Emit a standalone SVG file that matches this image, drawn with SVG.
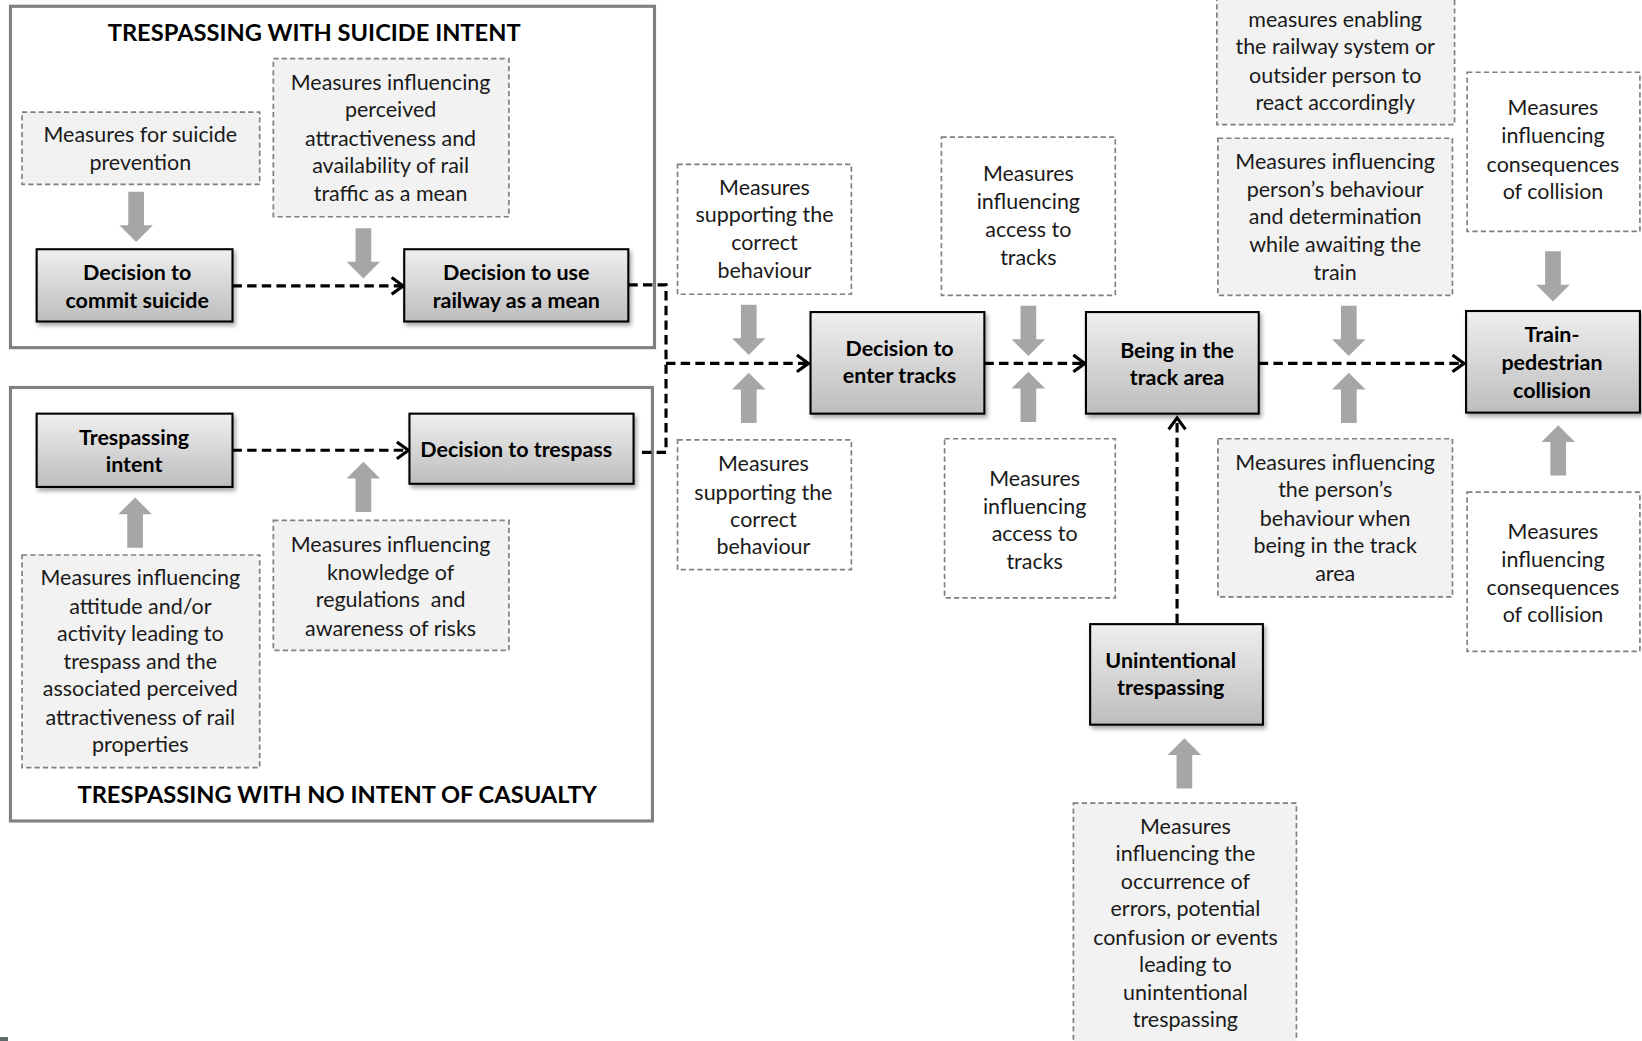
<svg xmlns="http://www.w3.org/2000/svg" width="1642" height="1041" viewBox="0 0 1642 1041">
<style>
text{font-family:Lato,"Liberation Sans",sans-serif;fill:#1a1a1a;text-anchor:middle}
.m{font-size:20.5px}
.b{font-size:20.5px;font-weight:bold;fill:#000}
.t{font-size:22.6px;font-weight:bold;fill:#000}
.grp{fill:none;stroke:#808080;stroke-width:3}
.mg{fill:#f2f2f2;stroke:#808080;stroke-width:1.6;stroke-dasharray:5 3}
.mw{fill:#fff;stroke:#808080;stroke-width:1.6;stroke-dasharray:5 3}
.nd{fill:url(#gr);stroke:#000;stroke-width:2;filter:url(#sh)}
.ga{fill:#a6a6a6}
.c{fill:none;stroke:#000;stroke-width:3;stroke-dasharray:9 5}
</style>
<defs>
<linearGradient id="gr" x1="0" y1="0" x2="0" y2="1"><stop offset="0" stop-color="#efefef"/><stop offset="1" stop-color="#bdbdbd"/></linearGradient>
<filter id="sh" x="-10%" y="-10%" width="130%" height="140%"><feDropShadow dx="2" dy="3" stdDeviation="2" flood-color="#000" flood-opacity="0.35"/></filter>
<marker id="ah" markerUnits="userSpaceOnUse" markerWidth="16" markerHeight="20" refX="13" refY="10" orient="auto"><path d="M2,2 L13,10 L2,18" fill="none" stroke="#000" stroke-width="3" stroke-dasharray="none"/></marker>
<path id="dn" d="M-7.5,0 H7.5 V32 H16 L0,48 L-16,32 H-7.5 Z"/>
<path id="up" d="M-7.5,48 H7.5 V16 H16 L0,0 L-16,16 H-7.5 Z"/>
</defs>
<rect x="0" y="1037" width="8" height="4" fill="#5f6b6b"/>
<g transform="scale(1.0472)">
<g id="group-suicide">
<rect class="grp" x="10" y="6" width="615" height="326"/>
<text class="t" x="300" y="39">TRESPASSING WITH SUICIDE INTENT</text>
</g>
<g id="group-no-intent">
<rect class="grp" x="10" y="370" width="613" height="414"/>
<text class="t" x="322" y="767">TRESPASSING WITH NO INTENT OF CASUALTY</text>
</g>
<g id="connectors">
<path class="c" d="M222,273 H385" marker-end="url(#ah)"/>
<path class="c" d="M600,272 H636 V432 H611"/>
<path class="c" d="M636,347 H772" marker-end="url(#ah)"/>
<path class="c" d="M222,430 H390" marker-end="url(#ah)"/>
<path class="c" d="M940,347 H1036" marker-end="url(#ah)"/>
<path class="c" d="M1202,347 H1398" marker-end="url(#ah)"/>
<path class="c" d="M1124,595 V399" marker-end="url(#ah)"/>
</g>
<g id="influence-arrows" class="ga">
<use href="#dn" x="130" y="183"/>
<use href="#dn" x="347" y="218"/>
<use href="#up" x="129" y="475"/>
<use href="#up" x="347" y="441"/>
<use href="#dn" x="715" y="291"/>
<use href="#up" x="715" y="356"/>
<use href="#dn" x="982" y="292"/>
<use href="#up" x="982" y="355"/>
<use href="#dn" x="1288" y="292"/>
<use href="#up" x="1288" y="356"/>
<use href="#dn" x="1483" y="240"/>
<use href="#up" x="1488" y="406"/>
<use href="#up" x="1131" y="705"/>
</g>
<g id="n-commit-suicide"><rect class="nd" x="35" y="238" width="187" height="69"/>
<text class="b" x="131" y="267">Decision to</text><text class="b" x="131" y="294">commit suicide</text></g>
<g id="n-use-railway"><rect class="nd" x="386" y="238" width="214" height="69"/>
<text class="b" x="493" y="267">Decision to use</text><text class="b" x="493" y="294">railway as a mean</text></g>
<g id="n-trespassing-intent"><rect class="nd" x="35" y="395" width="187" height="70"/>
<text class="b" x="128" y="425">Trespassing</text><text class="b" x="128" y="451">intent</text></g>
<g id="n-decision-trespass"><rect class="nd" x="391" y="395" width="214" height="67"/>
<text class="b" x="493" y="436">Decision to trespass</text></g>
<g id="n-enter-tracks"><rect class="nd" x="774" y="298" width="166" height="97"/>
<text class="b" x="859" y="340">Decision to</text><text class="b" x="859" y="366">enter tracks</text></g>
<g id="n-track-area"><rect class="nd" x="1037" y="298" width="165" height="97"/>
<text class="b" x="1124" y="342">Being in the</text><text class="b" x="1124" y="368">track area</text></g>
<g id="n-unintentional"><rect class="nd" x="1041" y="596" width="165" height="96"/>
<text class="b" x="1118" y="638">Unintentional</text><text class="b" x="1118" y="664">trespassing</text></g>
<g id="n-collision"><rect class="nd" x="1400" y="297" width="166" height="97"/>
<text class="b" x="1482" y="327">Train-</text><text class="b" x="1482" y="353">pedestrian</text><text class="b" x="1482" y="380">collision</text></g>
<g id="m-suicide-prevention"><rect class="mg" x="21" y="107" width="227" height="69"/>
<text class="m" x="134" y="136">Measures for suicide</text><text class="m" x="134" y="162">prevention</text></g>
<g id="m-attractiveness"><rect class="mg" x="261" y="56" width="225" height="151"/>
<text class="m" x="373" y="86">Measures influencing</text><text class="m" x="373" y="112">perceived</text><text class="m" x="373" y="139">attractiveness and</text><text class="m" x="373" y="165">availability of rail</text><text class="m" x="373" y="192">traffic as a mean</text></g>
<g id="m-attitude"><rect class="mg" x="21" y="530" width="227" height="203"/>
<text class="m" x="134" y="559">Measures influencing</text><text class="m" x="134" y="586">attitude and/or</text><text class="m" x="134" y="612">activity leading to</text><text class="m" x="134" y="639">trespass and the</text><text class="m" x="134" y="665">associated perceived</text><text class="m" x="134" y="692">attractiveness of rail</text><text class="m" x="134" y="718">properties</text></g>
<g id="m-knowledge"><rect class="mg" x="261" y="497" width="225" height="124"/>
<text class="m" x="373" y="527">Measures influencing</text><text class="m" x="373" y="554">knowledge of</text><text class="m" x="373" y="580" xml:space="preserve">regulations  and</text><text class="m" x="373" y="607">awareness of risks</text></g>
<g id="m-correct-top"><rect class="mw" x="647" y="157" width="166" height="124"/>
<text class="m" x="730" y="186">Measures</text><text class="m" x="730" y="212">supporting the</text><text class="m" x="730" y="239">correct</text><text class="m" x="730" y="265">behaviour</text></g>
<g id="m-correct-bottom"><rect class="mw" x="647" y="420" width="166" height="124"/>
<text class="m" x="729" y="450">Measures</text><text class="m" x="729" y="477">supporting the</text><text class="m" x="729" y="503">correct</text><text class="m" x="729" y="529">behaviour</text></g>
<g id="m-access-top"><rect class="mw" x="899" y="131" width="166" height="151"/>
<text class="m" x="982" y="173">Measures</text><text class="m" x="982" y="200">influencing</text><text class="m" x="982" y="226">access to</text><text class="m" x="982" y="253">tracks</text></g>
<g id="m-access-bottom"><rect class="mw" x="902" y="419" width="163" height="152"/>
<text class="m" x="988" y="464">Measures</text><text class="m" x="988" y="491">influencing</text><text class="m" x="988" y="517">access to</text><text class="m" x="988" y="543">tracks</text></g>
<g id="m-react"><rect class="mg" x="1162" y="-5" width="227" height="124"/>
<text class="m" x="1275" y="26">measures enabling</text><text class="m" x="1275" y="52">the railway system or</text><text class="m" x="1275" y="79">outsider person to</text><text class="m" x="1275" y="105">react accordingly</text></g>
<g id="m-awaiting"><rect class="mg" x="1163" y="132" width="224" height="150"/>
<text class="m" x="1275" y="161">Measures influencing</text><text class="m" x="1275" y="188">person’s behaviour</text><text class="m" x="1275" y="214">and determination</text><text class="m" x="1275" y="241">while awaiting the</text><text class="m" x="1275" y="267">train</text></g>
<g id="m-in-track-area"><rect class="mg" x="1163" y="419" width="224" height="151"/>
<text class="m" x="1275" y="449">Measures influencing</text><text class="m" x="1275" y="475">the person’s</text><text class="m" x="1275" y="502">behaviour when</text><text class="m" x="1275" y="528">being in the track</text><text class="m" x="1275" y="555">area</text></g>
<g id="m-consequences-top"><rect class="mw" x="1401" y="69" width="165" height="152"/>
<text class="m" x="1483" y="110">Measures</text><text class="m" x="1483" y="137">influencing</text><text class="m" x="1483" y="164">consequences</text><text class="m" x="1483" y="190">of collision</text></g>
<g id="m-consequences-bottom"><rect class="mw" x="1401" y="470" width="165" height="152"/>
<text class="m" x="1483" y="515">Measures</text><text class="m" x="1483" y="541">influencing</text><text class="m" x="1483" y="568">consequences</text><text class="m" x="1483" y="594">of collision</text></g>
<g id="m-errors"><rect class="mg" x="1025" y="767" width="213" height="240"/>
<text class="m" x="1132" y="796">Measures</text><text class="m" x="1132" y="822">influencing the</text><text class="m" x="1132" y="849">occurrence of</text><text class="m" x="1132" y="875">errors, potential</text><text class="m" x="1132" y="902">confusion or events</text><text class="m" x="1132" y="928">leading to</text><text class="m" x="1132" y="955">unintentional</text><text class="m" x="1132" y="981">trespassing</text></g>
</g>
</svg>
